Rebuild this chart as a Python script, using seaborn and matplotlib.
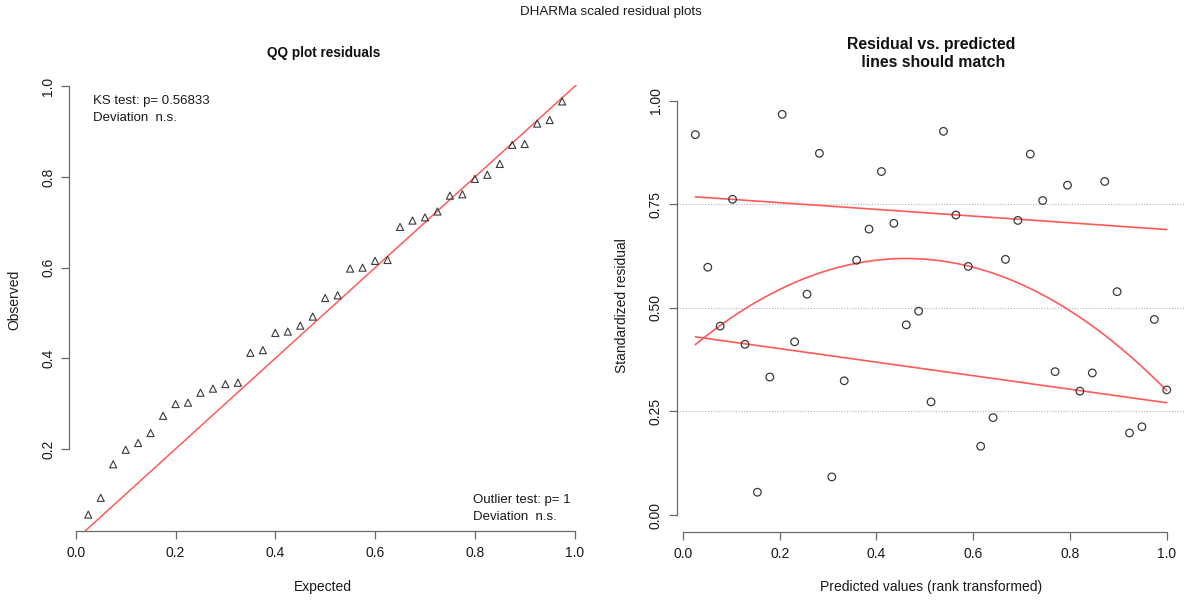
import numpy as np
import pandas as pd
import matplotlib
matplotlib.use("Agg")
import matplotlib.pyplot as plt
import seaborn as sns

# Scaled (quantile) residuals, listed in order of the rank of the predicted value
scaled_residual = [0.918, 0.598, 0.456, 0.762, 0.412, 0.055, 0.333, 0.967, 0.418, 0.533,
                   0.873, 0.092, 0.324, 0.615, 0.690, 0.829, 0.704, 0.459, 0.492, 0.273,
                   0.926, 0.724, 0.600, 0.166, 0.235, 0.617, 0.711, 0.871, 0.759, 0.346,
                   0.796, 0.299, 0.343, 0.805, 0.539, 0.198, 0.213, 0.472, 0.302]
prediction_rank = list(range(1, 40))

# Fitted quantile regressions (0.25 / 0.75 are linear, the median is smooth)
q_line_x = [1 / 39, 1.0]
q25_line = [0.430, 0.271]
q75_line = [0.768, 0.689]
q50_x = [1 / 39, 0.2, 0.4, 0.6, 0.8, 1.0]
q50_curve = [0.410, 0.546, 0.616, 0.598, 0.490, 0.302]
ref_levels = [0.25, 0.5, 0.75]

ks_lines = ["KS test: p= 0.56833", "Deviation  n.s."]
outlier_lines = ["Outlier test: p= 1", "Deviation  n.s."]

qq_ticks = [0.2, 0.4, 0.6, 0.8, 1.0]
qq_xticks = [0.0, 0.2, 0.4, 0.6, 0.8, 1.0]
res_yticks = [0.00, 0.25, 0.50, 0.75, 1.00]
res_xticks = [0.0, 0.2, 0.4, 0.6, 0.8, 1.0]

sns.set_style("white")
plt.rcParams["font.family"] = ["Liberation Sans", "DejaVu Sans"]

W, H = 1188, 601
fig = plt.figure(figsize=(W / 100, H / 100), dpi=100)


def fx(px):
    return px / W


def fy(py):
    return 1 - py / H


axis_col = "#6a6a6a"
text_col = "#1a1a1a"
red = "#ff5a5a"
FS = 10
NOTE_FS = 9.5

n = len(scaled_residual)
qq = pd.DataFrame({
    "expected": np.arange(1, n + 1) / (n + 1),
    "observed": np.sort(scaled_residual),
})
res = pd.DataFrame({
    "predicted": np.array(prediction_rank) / n,
    "residual": scaled_residual,
})


def style_axis(ax, xb, yb, xt, yt, yfmt):
    for s in ("top", "right"):
        ax.spines[s].set_visible(False)
    for s in ("left", "bottom"):
        ax.spines[s].set_color(axis_col)
        ax.spines[s].set_linewidth(0.9)
    ax.spines["bottom"].set_bounds(*xb)
    ax.spines["left"].set_bounds(*yb)
    ax.set_xticks(xt)
    ax.set_yticks(yt)
    ax.set_xticklabels([f"{v:.1f}" for v in xt])
    ax.set_yticklabels([yfmt.format(v) for v in yt], rotation=90, va="center")
    ax.tick_params(axis="both", direction="out", length=6, width=0.9,
                   color=axis_col, labelcolor=text_col, labelsize=FS,
                   bottom=True, left=True)
    ax.tick_params(axis="x", pad=5)
    ax.tick_params(axis="y", pad=4)
    ax.set_xlabel("")
    ax.set_ylabel("")


# ---- QQ plot of the residuals ----
axL = fig.add_axes([fx(69.3), fy(530.9), fx(581.1 - 69.3), (530.9 - 85.1) / H])
axL.set_xlim(-0.013, 1.013)
axL.set_ylim(0.019, 1.003)
axL.plot([0, 1.2], [0, 1.2], color=red, lw=1.1, zorder=1)
sns.scatterplot(data=qq, x="expected", y="observed", ax=axL, marker="^",
                s=26, facecolor="none", edgecolor="#3a3a3a", linewidth=0.8,
                zorder=3)
style_axis(axL, (0, 1), (0.2, 1.0), qq_xticks, qq_ticks, "{:.1f}")

for i, t in enumerate(ks_lines):
    fig.text(fx(92.5), fy(101 + 17 * i), t, fontsize=NOTE_FS, color=text_col,
             ha="left", va="center")
for i, t in enumerate(outlier_lines):
    fig.text(fx(473), fy(500.5 + 16.5 * i), t, fontsize=NOTE_FS,
             color=text_col, ha="left", va="center")

fig.text(fx(324), fy(52.5), "QQ plot residuals", fontsize=9.8,
         fontweight="bold", ha="center", va="center", color="#111111")
fig.text(fx(323), fy(587), "Expected", fontsize=FS, ha="center", va="center",
         color=text_col)
fig.text(fx(14), fy(300), "Observed", fontsize=FS, ha="center", va="center",
         rotation=90, color=text_col)

# ---- Residuals against rank-transformed predictions ----
axR = fig.add_axes([fx(676.5), fy(531.6), fx(1185.6 - 676.5), (531.6 - 84.1) / H])
axR.set_xlim(1 / 39 - 0.039, 1.039)
axR.set_ylim(-0.04, 1.04)
for lv in ref_levels:
    axR.axhline(lv, color="#b5b5b5", lw=0.8, ls=(0, (1, 1.5)), zorder=0)

sns.lineplot(x=q_line_x, y=q25_line, ax=axR, color=red, lw=1.2, zorder=2)
sns.lineplot(x=q_line_x, y=q75_line, ax=axR, color=red, lw=1.2, zorder=2)
coef = np.polyfit(q50_x, q50_curve, 2)
xs = np.linspace(q50_x[0], q50_x[-1], 200)
sns.lineplot(x=xs, y=np.polyval(coef, xs), ax=axR, color=red, lw=1.2, zorder=2)

sns.scatterplot(data=res, x="predicted", y="residual", ax=axR, marker="o",
                s=30, facecolor="none", edgecolor="#3a3a3a", linewidth=0.9,
                zorder=3)
style_axis(axR, (0, 1), (0, 1), res_xticks, res_yticks, "{:.2f}")

fig.text(fx(931), fy(44), "Residual vs. predicted", fontsize=11.4,
         fontweight="bold", ha="center", va="center", color="#111111")
fig.text(fx(931), fy(62.5), " lines should match", fontsize=11.4,
         fontweight="bold", ha="center", va="center", color="#111111")
fig.text(fx(931), fy(587), "Predicted values (rank transformed)", fontsize=FS,
         ha="center", va="center", color=text_col)
fig.text(fx(622), fy(306), "Standardized residual", fontsize=FS, ha="center",
         va="center", rotation=90, color=text_col)

fig.text(fx(611), fy(12.5), "DHARMa scaled residual plots", fontsize=9.6,
         ha="center", va="center", color=text_col)

fig.savefig("out.png", dpi=100, facecolor="white")
